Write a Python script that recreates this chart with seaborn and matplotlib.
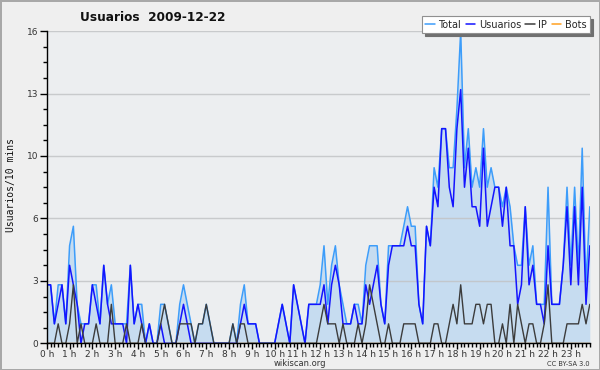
import numpy as np
import pandas as pd
import matplotlib
matplotlib.use("Agg")
import matplotlib.pyplot as plt
from matplotlib.lines import Line2D
from matplotlib.ticker import MultipleLocator
import seaborn as sns

# one value per 10 minutes, 6 per hour (one row = one hour)
total = [
    3, 3, 1, 3, 3, 1,
    5, 6, 2, 1, 1, 1,
    3, 3, 1, 4, 2, 3,
    1, 1, 1, 1, 4, 1,
    2, 2, 0, 1, 0, 0,
    2, 2, 1, 0, 0, 2,
    3, 2, 1, 0, 1, 1,
    2, 1, 0, 0, 0, 0,
    0, 1, 0, 2, 3, 1,
    1, 1, 0, 0, 0, 0,
    0, 1, 2, 1, 0, 3,
    2, 1, 0, 2, 2, 2,
    3, 5, 2, 4, 5, 3,
    2, 1, 1, 2, 2, 1,
    4, 5, 5, 5, 2, 1,
    5, 5, 5, 5, 6, 7,
    6, 6, 2, 1, 6, 5,
    9, 8, 11, 11, 9, 9,
    12, 16, 9, 11, 8, 9,
    8, 11, 8, 9, 8, 8,
    7, 8, 7, 5, 4, 4,
    7, 4, 5, 2, 2, 2,
    8, 2, 2, 2, 4, 8,
    4, 8, 4, 10, 3, 7,
]
usuarios = [
    3, 3, 1, 2, 3, 1,
    4, 3, 2, 0, 1, 1,
    3, 2, 1, 4, 2, 1,
    1, 1, 1, 0, 4, 1,
    2, 1, 0, 1, 0, 0,
    1, 0, 0, 0, 0, 1,
    2, 1, 0, 0, 0, 0,
    0, 0, 0, 0, 0, 0,
    0, 0, 0, 1, 2, 1,
    1, 1, 0, 0, 0, 0,
    0, 1, 2, 1, 0, 3,
    2, 1, 0, 2, 2, 2,
    2, 3, 1, 3, 4, 3,
    1, 1, 1, 2, 1, 1,
    3, 2, 3, 4, 2, 1,
    4, 5, 5, 5, 5, 6,
    5, 5, 2, 1, 6, 5,
    8, 7, 11, 11, 8, 7,
    11, 13, 8, 10, 7, 7,
    6, 10, 6, 7, 8, 8,
    6, 8, 5, 5, 2, 3,
    7, 3, 4, 2, 2, 1,
    5, 2, 2, 2, 4, 7,
    3, 7, 3, 8, 2, 5,
]
ip = [
    0, 0, 0, 1, 0, 0,
    1, 3, 0, 1, 0, 0,
    0, 1, 0, 0, 0, 2,
    0, 0, 0, 1, 0, 0,
    0, 1, 0, 0, 0, 0,
    1, 2, 1, 0, 0, 1,
    1, 1, 1, 0, 1, 1,
    2, 1, 0, 0, 0, 0,
    0, 1, 0, 1, 1, 0,
    0, 0, 0, 0, 0, 0,
    0, 0, 0, 0, 0, 0,
    0, 0, 0, 0, 0, 0,
    1, 2, 1, 1, 1, 0,
    1, 0, 0, 0, 1, 0,
    1, 3, 2, 1, 0, 0,
    1, 0, 0, 0, 1, 1,
    1, 1, 0, 0, 0, 0,
    1, 1, 0, 0, 1, 2,
    1, 3, 1, 1, 1, 2,
    2, 1, 2, 2, 0, 0,
    1, 0, 2, 0, 2, 1,
    0, 1, 1, 0, 0, 1,
    3, 0, 0, 0, 0, 1,
    1, 1, 1, 2, 1, 2,
]
bots = [
    0, 0, 0, 0, 0, 0, 0, 0, 0, 0, 0, 0, 0, 0, 0, 0, 0, 0, 0, 0, 0, 0, 0, 0, 0, 0, 0, 0, 0, 0, 0, 0, 0, 0, 0, 0,
    0, 0, 0, 0, 0, 0, 0, 0, 0, 0, 0, 0, 0, 0, 0, 0, 0, 0, 0, 0, 0, 0, 0, 0, 0, 0, 0, 0, 0, 0, 0, 0, 0, 0, 0, 0,
    0, 0, 0, 0, 0, 0, 0, 0, 0, 0, 0, 0, 0, 0, 0, 0, 0, 0, 0, 0, 0, 0, 0, 0, 0, 0, 0, 0, 0, 0, 0, 0, 0, 0, 0, 0,
    0, 0, 0, 0, 0, 0, 0, 0, 0, 0, 0, 0, 0, 0, 0, 0, 0, 0, 0, 0, 0, 0, 0, 0, 0, 0, 0, 0, 0, 0, 0, 0, 0, 0, 0, 0,
]
hour_labels = [f"{h} h" for h in range(24)]
y_tick_labels = ["0", "3", "6", "10", "13", "16"]
series_names = ["Total", "Usuarios", "IP", "Bots"]
series_colors = ["#3d9dfa", "#1414ff", "#3c3c3c", "#ffa020"]

slots = np.arange(len(total))
df = pd.DataFrame({"slot": slots, "Total": total, "Usuarios": usuarios,
                   "IP": ip, "Bots": bots})

sns.set_style("ticks")
plt.rcParams["font.family"] = ["DejaVu Sans"]

fig = plt.figure(figsize=(6, 3.7), dpi=100, facecolor="#efefef",
                 edgecolor="#a8a8a8", linewidth=2)
ax = fig.add_axes([0.078, 0.072, 0.905, 0.844])
ax.set_facecolor("#eceef0")

# filled area under the total
ax.fill_between(df["slot"], df["Total"], color="#c6dcf0", lw=0, zorder=1)

sns.lineplot(data=df, x="slot", y="Bots", color=series_colors[3], lw=1, ax=ax, zorder=2)
sns.lineplot(data=df, x="slot", y="Total", color=series_colors[0], lw=1.1, ax=ax, zorder=3)
sns.lineplot(data=df, x="slot", y="Usuarios", color=series_colors[1], lw=1.1, ax=ax, zorder=4)
sns.lineplot(data=df, x="slot", y="IP", color=series_colors[2], lw=1.0, ax=ax, zorder=5)

ax.set_xlim(0, len(total) - 1)
ax.set_ylim(0, 16)

ax.set_yticks(np.linspace(0, 16, len(y_tick_labels)))
ax.set_yticklabels(y_tick_labels)
ax.yaxis.set_minor_locator(MultipleLocator(0.8))
ax.set_xticks(slots[::6])
ax.set_xticklabels(hour_labels)
ax.xaxis.set_minor_locator(MultipleLocator(1))

ax.tick_params(axis="both", which="major", length=5, width=1, color="black",
               labelsize=6.5, labelcolor="#333333", pad=1)
ax.tick_params(axis="x", which="major", length=4, pad=0.5)
ax.tick_params(axis="both", which="minor", length=3, width=1, color="black")

ax.yaxis.grid(True, color="#c2c4c6", lw=1, alpha=0.85, zorder=1.5)
ax.set_axisbelow(False)
for gl in ax.get_ygridlines():
    gl.set_zorder(1.5)

for side in ["top", "right"]:
    ax.spines[side].set_visible(False)
for side in ["left", "bottom"]:
    ax.spines[side].set_color("black")
    ax.spines[side].set_linewidth(1)
    ax.spines[side].set_zorder(6)

ax.set_xlabel("")
ax.set_ylabel("")

fig.text(0.018, 0.50, "Usuarios/10 mins", rotation=90, ha="center", va="center",
         fontsize=7, family="DejaVu Sans Mono", color="#111111")
fig.text(0.133, 0.952, "Usuarios  2009-12-22", ha="left", va="center",
         fontsize=8.7, fontweight="bold", color="#111111")
fig.text(0.5, 0.017, "wikiscan.org", ha="center", va="center",
         fontsize=6, color="#333333")
fig.text(0.983, 0.017, "CC BY-SA 3.0", ha="right", va="center",
         fontsize=4.8, color="#333333")

handles = [Line2D([0], [0], color=c, lw=1.1) for c in series_colors]
leg = fig.legend(handles, series_names, loc="upper right",
                 bbox_to_anchor=(0.983, 0.956), bbox_transform=fig.transFigure,
                 ncol=4, fontsize=7, frameon=True, fancybox=False,
                 shadow={"color": "#707070", "alpha": 1},
                 handlelength=1.0, handletextpad=0.35, columnspacing=0.45,
                 borderpad=0.35, borderaxespad=0)
leg.get_frame().set_facecolor("white")
leg.get_frame().set_edgecolor("#909090")
leg.get_frame().set_linewidth(0.8)

fig.savefig("out.png", dpi=100, facecolor=fig.get_facecolor(),
            edgecolor=fig.get_edgecolor())
